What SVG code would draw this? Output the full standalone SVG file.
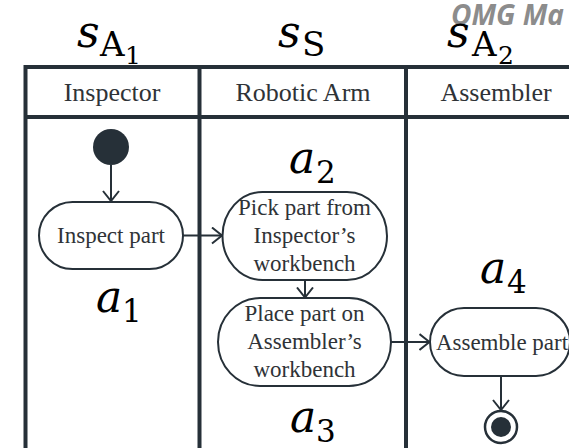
<svg xmlns="http://www.w3.org/2000/svg" width="569" height="448" viewBox="0 0 569 448">
<style>
.frame{stroke:#263038;stroke-width:4;fill:none}
.node{fill:#fff;stroke:#263038;stroke-width:2}
.conn{stroke:#263038;stroke-width:2;fill:none}
.lbl{font-family:"Liberation Serif","Times New Roman",serif;font-size:23px;fill:#2f3337;text-anchor:middle}
.hdr{font-family:"Liberation Serif","Times New Roman",serif;font-size:26px;fill:#2f3337;text-anchor:middle}
.math{font-family:"DejaVu Serif",serif;fill:#000}
.mv{font-style:italic;font-size:44px}
.ms{font-size:34px}
.mss{font-size:25px}
.msub{font-size:31px}
.omg{font-family:"Open Sans","Liberation Sans",sans-serif;font-weight:bold;font-style:italic;font-size:28px;fill:#8c8c8c}
</style>
<defs>
<marker id="arr" viewBox="0 0 12 18" refX="11" refY="9" markerWidth="12" markerHeight="18" markerUnits="userSpaceOnUse" orient="auto">
<path d="M1,1 L11,9 L1,17" fill="none" stroke="#263038" stroke-width="2"/>
</marker>
</defs>
<rect width="569" height="448" fill="#fff"/>
<text class="omg" x="451" y="25">OMG Ma</text>
<g id="swimlanes">
<path class="frame" d="M25.5,448 V67 H580 M25.5,117 H580 M199.5,67 V448 M406,67 V448"/>
<text class="hdr" x="112" y="101">Inspector</text>
<text class="hdr" x="303" y="101">Robotic Arm</text>
<text class="hdr" x="496" y="101">Assembler</text>
</g>
<g id="lane-labels" class="math">
<text><tspan class="mv" x="77" y="47">s</tspan><tspan class="ms" x="100" y="56">A</tspan><tspan class="mss" x="125" y="64">1</tspan></text>
<text><tspan class="mv" x="278" y="47">s</tspan><tspan class="ms" x="302" y="56">S</tspan></text>
<text><tspan class="mv" x="447" y="47">s</tspan><tspan class="ms" x="472" y="56">A</tspan><tspan class="mss" x="498" y="64">2</tspan></text>
</g>
<g id="connectors">
<path class="conn" marker-end="url(#arr)" d="M111,165 V201"/>
<path class="conn" marker-end="url(#arr)" d="M183,235.5 H222"/>
<path class="conn" marker-end="url(#arr)" d="M305,280 V297.5"/>
<path class="conn" marker-end="url(#arr)" d="M391,342 H429.5"/>
<path class="conn" marker-end="url(#arr)" d="M501,376 V410"/>
</g>
<g id="start">
<circle cx="111" cy="147" r="18" fill="#263038"/>
</g>
<g id="a1">
<rect class="node" x="39" y="202" width="144" height="67" rx="33.5" ry="33.5"/>
<text class="lbl" x="111" y="243">Inspect part</text>
<text class="math"><tspan class="mv" x="96" y="312">a</tspan><tspan class="msub" x="122" y="322">1</tspan></text>
</g>
<g id="a2">
<rect class="node" x="222.5" y="192" width="164.5" height="88" rx="40" ry="44"/>
<text class="lbl" x="304.5" y="215">Pick part from</text>
<text class="lbl" x="304.5" y="243">Inspector’s</text>
<text class="lbl" x="304.5" y="271">workbench</text>
<text class="math"><tspan class="mv" x="289" y="173">a</tspan><tspan class="msub" x="316" y="183">2</tspan></text>
</g>
<g id="a3">
<rect class="node" x="218" y="298" width="173" height="88" rx="42" ry="44"/>
<text class="lbl" x="304.5" y="321">Place part on</text>
<text class="lbl" x="304.5" y="349">Assembler’s</text>
<text class="lbl" x="304.5" y="377">workbench</text>
<text class="math"><tspan class="mv" x="290" y="432">a</tspan><tspan class="msub" x="316" y="442">3</tspan></text>
</g>
<g id="a4">
<rect class="node" x="430" y="308" width="140" height="68" rx="34" ry="34"/>
<text class="lbl" x="502" y="350">Assemble part</text>
<text class="math"><tspan class="mv" x="480" y="283">a</tspan><tspan class="msub" x="507" y="293">4</tspan></text>
</g>
<g id="end">
<circle cx="501" cy="427" r="16" fill="#fff" stroke="#263038" stroke-width="2.5"/>
<circle cx="501" cy="427" r="10" fill="#263038"/>
</g>
</svg>
